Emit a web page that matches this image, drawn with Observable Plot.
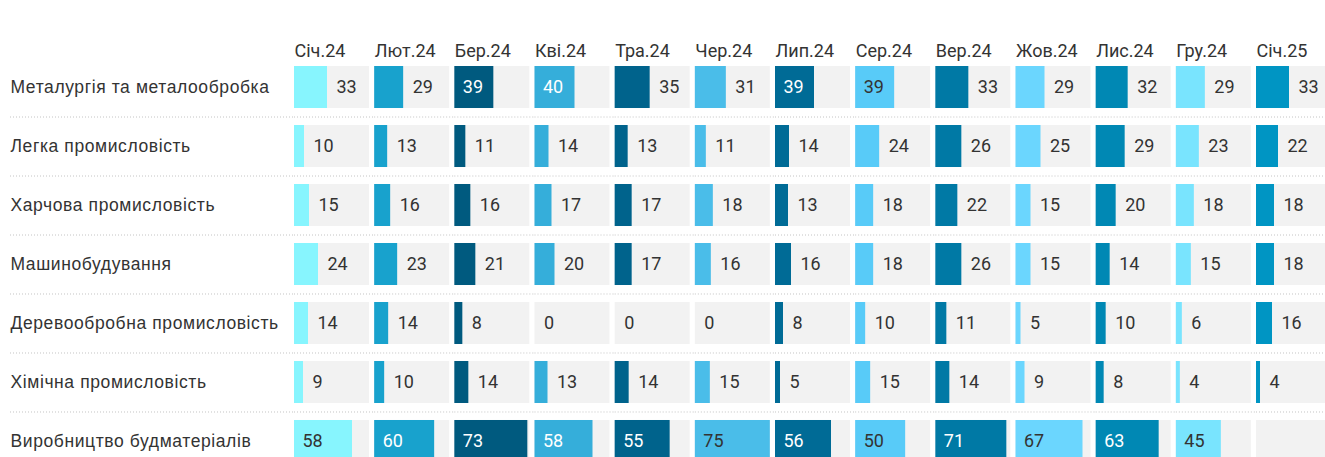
<!DOCTYPE html>
<html><head><meta charset="utf-8">
<script src="https://cdn.jsdelivr.net/npm/d3@7"></script>
<script src="https://cdn.jsdelivr.net/npm/@observablehq/plot@0.6"></script>
<style>
html,body{margin:0;padding:0;overflow:hidden;background:#fff;}
#chart svg{max-width:none !important;display:block;}
#chart g[aria-label="y-axis tick label"] text{letter-spacing:0.6px;}
</style></head><body><div id="chart"></div>
<script>
const months = ["Січ.24","Лют.24","Бер.24","Кві.24","Тра.24","Чер.24","Лип.24","Сер.24","Вер.24","Жов.24","Лис.24","Гру.24","Січ.25"];
const industries = ["Металургія та металообробка","Легка промисловість","Харчова промисловість","Машинобудування","Деревообробна промисловість","Хімічна промисловість","Виробництво будматеріалів"];
const metallurgy = [33,29,39,40,35,31,39,39,33,29,32,29,33];
const lightInd   = [10,13,11,14,13,11,14,24,26,25,29,23,22];
const food       = [15,16,16,17,17,18,13,18,22,15,20,18,18];
const machinery  = [24,23,21,20,17,16,16,18,26,15,14,15,18];
const woodwork   = [14,14,8,0,0,0,8,10,11,5,10,6,16];
const chemical   = [9,10,14,13,14,15,5,15,14,9,8,4,4];
const building   = [58,60,73,58,55,75,56,50,71,67,63,45,null];
const palette = ["#87f5fe","#18a2cd","#005a7f","#35aeda","#00638c","#4abde9","#006b96","#58cbf8","#0079a5","#6bd6fe","#0088b4","#79e4fe","#0095c3"];
const maxValue = 75;

const series = [metallurgy, lightInd, food, machinery, woodwork, chemical, building];
const data = industries.flatMap((ind, i) => months.map((m, j) => ({industry: ind, month: m, value: series[i][j]})));
const isLight = m => d3.lab(palette[months.indexOf(m)]).l > 70;
const valued = data.filter(d => d.value != null);
const outside = valued.filter(d => d.value <= maxValue / 2);
const insideDark = valued.filter(d => d.value > maxValue / 2 && isLight(d.month));
const insideWhite = valued.filter(d => d.value > maxValue / 2 && !isLight(d.month));
const sepRows = industries.slice(1);

const plot = Plot.plot({
  width: 1331, height: 470,
  marginLeft: 294, marginRight: 0, marginTop: 66, marginBottom: 8,
  fx: {domain: months, paddingInner: 0.0645, paddingOuter: 0, round: false, axis: null},
  x: {domain: [0, maxValue], axis: null},
  y: {domain: industries, paddingInner: 0.288, paddingOuter: 0, round: false, axis: null},
  color: {domain: months, range: palette},
  style: {fontFamily: "Roboto", fontSize: "18px", color: "#333", background: "#fff"},
  marks: [
    Plot.ruleY(sepRows, {y: d => d, dy: -29.5, stroke: "#c4c4c4", strokeDasharray: "1 2", insetRight: -5.2}),
    Plot.ruleY(sepRows, {y: d => d, dy: -29.5, stroke: "#c4c4c4", strokeDasharray: "1 2", insetLeft: -284, insetRight: 75, facetAnchor: "left"}),
    Plot.barX(data, {fx: "month", y: "industry", x1: 0, x2: maxValue, fill: "#f2f2f2"}),
    Plot.barX(valued, {fx: "month", y: "industry", x: "value", fill: "month"}),
    Plot.text(outside, {fx: "month", y: "industry", x: "value", text: "value", textAnchor: "start", dx: 9, fill: "#333", fontSize: 18}),
    Plot.text(insideDark, {fx: "month", y: "industry", x: 0, text: "value", textAnchor: "start", dx: 8, fill: "#333", fontSize: 18}),
    Plot.text(insideWhite, {fx: "month", y: "industry", x: 0, text: "value", textAnchor: "start", dx: 8, fill: "#fff", fontSize: 18}),
    Plot.axisFx({anchor: "top", tickSize: 0, tickPadding: 10, textAnchor: "start", dx: -37.5, fontSize: 18, fill: "#333", label: null}),
    Plot.axisY({anchor: "left", tickSize: 0, tickPadding: 0, textAnchor: "start", dx: -284, fontSize: 17.5, fontFamily: "Liberation Sans", fill: "#333", label: null})
  ]
});
document.getElementById("chart").appendChild(plot);
</script></body></html>
